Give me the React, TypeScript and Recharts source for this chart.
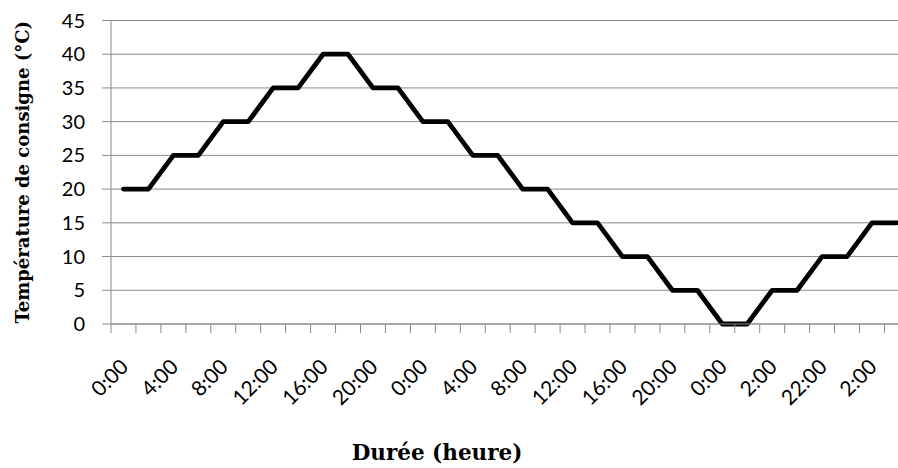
import React from "react";
import { LineChart, Line, XAxis, YAxis, CartesianGrid } from "recharts";

const timeLabels = [
  "0:00", "2:00", "4:00", "6:00", "8:00", "10:00", "12:00", "14:00",
  "16:00", "18:00", "20:00", "22:00", "0:00", "2:00", "4:00", "6:00",
  "8:00", "10:00", "12:00", "14:00", "16:00", "18:00", "20:00", "22:00",
  "0:00", "1:00", "2:00", "12:00", "22:00", "0:00", "2:00", "4:00",
];

const temperatures = [
  20, 20, 25, 25, 30, 30, 35, 35, 40, 40, 35, 35, 30, 30, 25, 25,
  20, 20, 15, 15, 10, 10, 5, 5, 0, 0, 5, 5, 10, 10, 15, 15,
];

const yTicks = [0, 5, 10, 15, 20, 25, 30, 35, 40, 45];

const data = temperatures.map((t, i) => ({ pos: i + 0.5, temp: t }));
const boundaryTicks = Array.from({ length: timeLabels.length + 1 }, (_, i) => i);
const labelTicks = timeLabels.map((_, i) => i + 0.5).filter((_, i) => i % 2 === 0);

const GRID = "#8a8a8a";
const SERIF = "'DejaVu Serif', serif";

const XTick = (props: any) => {
  const { x, y, payload } = props;
  const idx = Math.floor(payload.value);
  return (
    <g transform={`translate(${x + 1},${y + 38})`}>
      <text
        x={0}
        y={0}
        dy="0.35em"
        textAnchor="end"
        transform="rotate(-45)"
        fontFamily="Lato, sans-serif"
        fontSize={21}
        fill="#000"
      >
        {timeLabels[idx]}
      </text>
    </g>
  );
};

const YLabel = (props: any) => {
  const vb = props.viewBox || { x: 0, y: 0, width: 0, height: 0 };
  const cx = vb.x + 23;
  const cy = vb.y + vb.height / 2;
  return (
    <text
      x={cx}
      y={cy}
      transform={`rotate(-90, ${cx}, ${cy})`}
      textAnchor="middle"
      dy="0.35em"
      fontFamily={SERIF}
      fontWeight="bold"
      fontSize={18}
      fill="#000"
    >
      Température de consigne (°C)
    </text>
  );
};

const XLabel = (props: any) => {
  const vb = props.viewBox || { x: 0, y: 0, width: 0, height: 0 };
  return (
    <text
      x={437}
      y={vb.y + vb.height - 8}
      textAnchor="middle"
      fontFamily={SERIF}
      fontWeight="bold"
      fontSize={21.5}
      fill="#000"
    >
      Durée (heure)
    </text>
  );
};

export default function App() {
  return (
    <div
      style={{
        position: "fixed",
        left: 0,
        top: 0,
        width: 898,
        height: 468,
        overflow: "hidden",
        background: "#fff",
      }}
    >
      <LineChart
        width={930}
        height={468}
        data={data}
        margin={{ top: 20.5, right: 20.6, left: 0, bottom: 0 }}
      >
        <CartesianGrid vertical={false} stroke={GRID} strokeWidth={1} xAxisId="b_labels" />
        <XAxis
          xAxisId="b_labels"
          dataKey="pos"
          type="number"
          domain={[0, timeLabels.length]}
          allowDataOverflow
          ticks={labelTicks}
          interval={0}
          tick={<XTick />}
          tickSize={0}
          tickMargin={0}
          tickLine={false}
          axisLine={false}
          height={143}
          label={<XLabel />}
        />
        <XAxis
          xAxisId="a_marks"
          dataKey="pos"
          type="number"
          domain={[0, timeLabels.length]}
          allowDataOverflow
          ticks={boundaryTicks}
          interval={0}
          tickFormatter={() => ""}
          tick={{ fill: "none", fontSize: 1 }}
          tickSize={9}
          height={1}
          axisLine={{ stroke: GRID }}
          tickLine={{ stroke: GRID }}
        />
        <YAxis
          domain={[0, 45]}
          ticks={yTicks}
          interval={0}
          width={111}
          tickSize={9}
          tickMargin={17}
          axisLine={{ stroke: GRID }}
          tickLine={{ stroke: GRID }}
          tick={{ fontFamily: "Lato, sans-serif", fontSize: 20, fill: "#000" }}
          label={<YLabel />}
        />
        <Line
          xAxisId="b_labels"
          dataKey="temp"
          type="linear"
          stroke="#000"
          strokeWidth={4.8}
          strokeLinejoin="round"
          strokeLinecap="round"
          dot={false}
          activeDot={false}
          isAnimationActive={false}
        />
      </LineChart>
    </div>
  );
}
